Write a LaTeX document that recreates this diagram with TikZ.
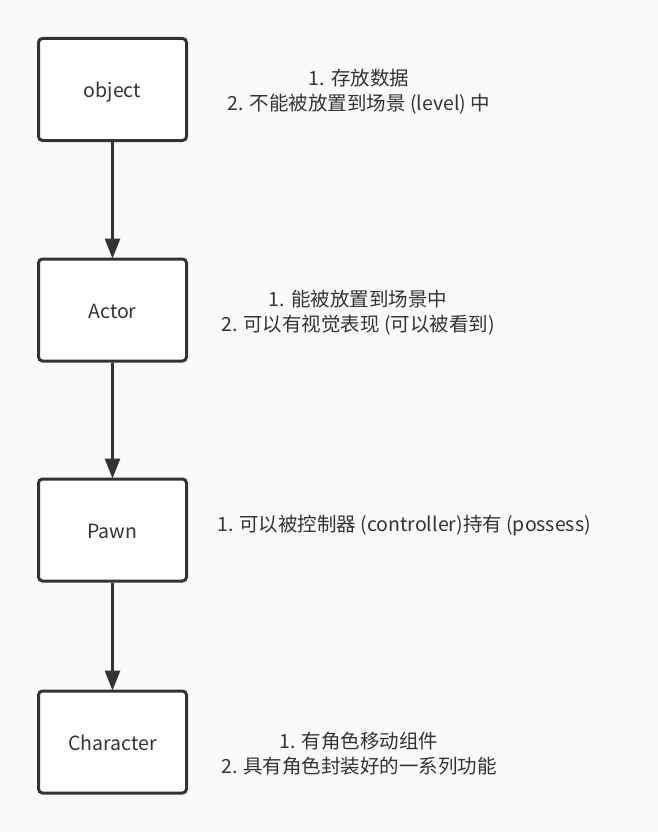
\documentclass[tikz,border=0pt]{standalone}
\usepackage{fontspec}
\setmainfont{Noto Sans CJK SC}
\usetikzlibrary{arrows.meta}
\definecolor{bg}{HTML}{FAFAFA}
\definecolor{ink}{HTML}{333333}
\begin{document}
\begin{tikzpicture}[x=1pt,y=-1pt,
  box/.style={draw=ink,line width=3pt,fill=white,rounded corners=4pt,minimum width=148pt,minimum height=102pt,inner sep=0pt,text height=17pt,text depth=0pt,text=ink,font=\fontsize{19.5pt}{22pt}\selectfont},
  note/.style={text=ink,align=center,font=\fontsize{19.5pt}{25pt}\selectfont,inner sep=0pt},
  conn/.style={draw=ink,line width=3pt,-{Triangle[length=20pt,width=15pt]},shorten >=-1pt}]
\fill[bg] (0,0) rectangle (658,832);
\useasboundingbox (0,0) rectangle (658,832);
\node[box] (object) at (112.5,89.5) {object};
\node[box] (actor) at (112.5,310) {Actor};
\node[box] (pawn) at (112.5,530) {Pawn};
\node[box] (character) at (112.5,742) {Character};
\draw[conn] (object.south) -- (actor.north);
\draw[conn] (actor.south) -- (pawn.north);
\draw[conn] (pawn.south) -- (character.north);
\node[note] (n1) at (359,92) {1. 存放数据\\2. 不能被放置到场景 (level) 中};
\node[note] (n2) at (358,313) {1. 能被放置到场景中\\2. 可以有视觉表现 (可以被看到)};
\node[note] (n3) at (404,526) {1. 可以被控制器 (controller)持有 (possess)};
\node[note] (n4) at (359,754) {1. 有角色移动组件\\2. 具有角色封装好的一系列功能};
\end{tikzpicture}
\end{document}
